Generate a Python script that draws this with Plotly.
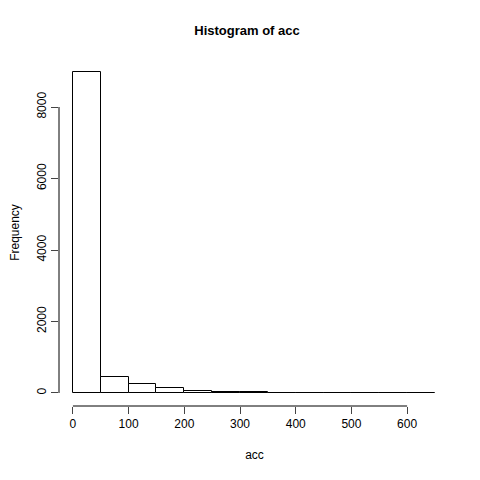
import plotly.graph_objects as go

bin_starts = [0, 50, 100, 150, 200, 250, 300, 350, 400, 450, 500, 550, 600]
counts = [8975, 455, 245, 130, 65, 30, 15, 8, 5, 3, 2, 1, 1]
bin_width = 50
x_ticks = [0, 100, 200, 300, 400, 500, 600]
y_ticks = [0, 2000, 4000, 6000, 8000]

centers = [s + bin_width / 2 for s in bin_starts]

fig = go.Figure(go.Bar(
    x=centers, y=counts, width=bin_width,
    marker=dict(color="white", line=dict(color="black", width=1)),
))

font = dict(family="Liberation Sans, Arial, sans-serif", size=12, color="black")

fig.update_layout(
    width=480, height=480,
    margin=dict(l=51, r=38, t=51, b=82, autoexpand=False),
    paper_bgcolor="white", plot_bgcolor="white",
    font=font, showlegend=False, bargap=0,
    title=dict(text="<b>Histogram of acc</b>", x=239 / 480, xanchor="center",
               y=1 - 22 / 480, yanchor="middle", font=dict(size=13)),
    xaxis=dict(range=[-25, 677], tickvals=x_ticks, ticks="outside", ticklen=7,
               showgrid=False, zeroline=False, showline=False, automargin=False,
               title=dict(text="acc", standoff=20, font=dict(size=12))),
    yaxis=dict(range=[-364, 9343], tickvals=y_ticks, ticks="outside", ticklen=7,
               tickangle=-90, showgrid=False, zeroline=False, showline=False, automargin=False,
               title=dict(text="Frequency", standoff=24, font=dict(size=12))),
    shapes=[
        dict(type="line", xref="x", yref="paper", x0=x_ticks[0], x1=x_ticks[-1], y0=0, y1=0,
             line=dict(color="black", width=1)),
        dict(type="line", xref="paper", yref="y", x0=0, x1=0, y0=y_ticks[0], y1=y_ticks[-1],
             line=dict(color="black", width=1)),
    ],
)

fig.write_html("out.html")
